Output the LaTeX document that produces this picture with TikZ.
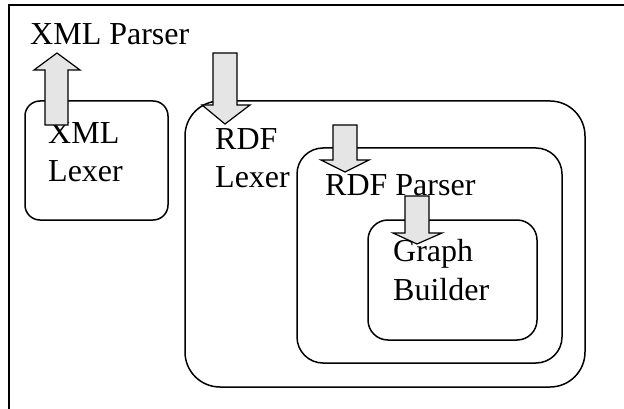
\documentclass[tikz,border=0pt]{standalone}
\usepackage{fontspec}
\setmainfont{Liberation Serif}
\begin{document}
\begin{tikzpicture}[x=1pt,y=-1pt,
  box/.style={draw,line width=1.5pt,inner sep=0pt},
  lbl/.style={inner sep=0pt,anchor=base west,align=left,font=\fontsize{32}{38.5}\selectfont},
  blockarrow/.style={draw,line width=1.2pt,fill=black!10,line join=miter}]
\useasboundingbox (0,0) rectangle (624,409);
% frame (top and left only)
\coordinate (ftl) at (9,5);
\coordinate (ftr) at (624,5);
\coordinate (fbl) at (9,409);
\draw[line width=1.5pt] (ftr) -- (ftl) -- (fbl);
% boxes
\node[box,rounded corners=15pt,minimum width=143pt,minimum height=119pt] (xmllex) at (96.5,160.5) {};
\node[box,rounded corners=35pt,minimum width=400pt,minimum height=286pt] (rdflex) at (385,244) {};
\node[box,rounded corners=26pt,minimum width=265pt,minimum height=215pt] (rdfpar) at (429.5,255.5) {};
\node[box,rounded corners=20pt,minimum width=169pt,minimum height=120pt] (graph) at (452.5,280) {};
% labels (base = baseline of last line)
\node[lbl] (txmlpar) at (30,45) {XML Parser};
\node[lbl] (txmllex) at (48,182) {XML\\Lexer};
\node[lbl] (trdflex) at (215,188) {RDF\\Lexer};
\node[lbl] (trdfpar) at (325,195) {RDF Parser};
\node[lbl] (tgraph) at (393,300) {Graph\\Builder};
% block arrows
\draw[blockarrow] (45,125) -- (45,70) -- (34,70) -- (57,53) -- (80,70) -- (68,70) -- (68,125) -- cycle;
\draw[blockarrow] (213,53) -- (213,105) -- (202,105) -- (225,124) -- (250,105) -- (237,105) -- (237,53) -- cycle;
\draw[blockarrow] (333,125) -- (333,160) -- (321,160) -- (345,172) -- (369,160) -- (357,160) -- (357,125) -- cycle;
\draw[blockarrow] (405,196) -- (405,233) -- (393,233) -- (417,244) -- (442,233) -- (429,233) -- (429,196) -- cycle;
\end{tikzpicture}
\end{document}
